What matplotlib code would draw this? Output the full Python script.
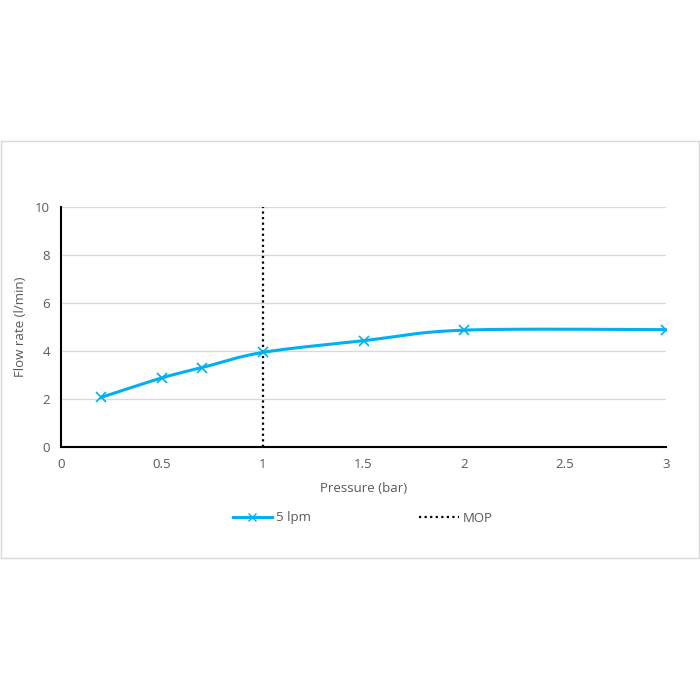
import numpy as np
import matplotlib
matplotlib.use("Agg")
import matplotlib.pyplot as plt
from matplotlib.lines import Line2D
from matplotlib.patches import Rectangle

# data
pressure = [0.2, 0.5, 0.7, 1.0, 1.5, 2.0, 3.0]
flow = [2.07, 2.88, 3.31, 3.94, 4.43, 4.87, 4.89]
mop_x = 1.0

BLUE = "#00B0F0"
GREY = "#595959"

plt.rcParams["font.family"] = ["Open Sans", "DejaVu Sans"]


def smooth(xs, ys, n=30):
    """Excel-style smoothed line (Catmull-Rom through the points)."""
    p = np.column_stack([xs, ys]).astype(float)
    p = np.vstack([p[0], p, p[-1]])
    out = []
    for i in range(1, len(p) - 2):
        p0, p1, p2, p3 = p[i - 1], p[i], p[i + 1], p[i + 2]
        t = np.linspace(0, 1, n)[:, None]
        c = 0.5 * ((2 * p1) + (-p0 + p2) * t + (2 * p0 - 5 * p1 + 4 * p2 - p3) * t ** 2
                   + (-p0 + 3 * p1 - 3 * p2 + p3) * t ** 3)
        out.append(c)
    c = np.vstack(out)
    return c[:, 0], c[:, 1]


fig = plt.figure(figsize=(7, 7), dpi=100)
fig.patches.append(Rectangle((1 / 700, 1 - 558 / 700), 698 / 700, 417 / 700,
                             transform=fig.transFigure, fill=False,
                             edgecolor="#d9d9d9", linewidth=1))
ax = fig.add_axes([61 / 700, 1 - 447 / 700, 605 / 700, 240 / 700])

sx, sy = smooth(pressure, flow)
ax.plot(sx, sy, color=BLUE, linewidth=2.2, zorder=3)
ax.plot(pressure, flow, linestyle="none", marker="x", color=BLUE,
        markersize=7, markeredgewidth=1.2, zorder=4)
ax.plot([mop_x, mop_x], [0, 10], color="black", linestyle=(0, (1, 1.5)),
        linewidth=1.6, zorder=2)

ax.set_xlim(0, 3)
ax.set_ylim(0, 10)
ax.set_xticks([0, 0.5, 1, 1.5, 2, 2.5, 3])
ax.set_xticklabels(["0", "0.5", "1", "1.5", "2", "2.5", "3"])
ax.set_yticks([0, 2, 4, 6, 8, 10])
ax.tick_params(length=0, colors=GREY, labelsize=9.5, pad=8)
ax.grid(axis="y", color="#d9d9d9", linewidth=1)
ax.set_axisbelow(True)
for s in ["top", "right"]:
    ax.spines[s].set_visible(False)
for s in ["left", "bottom"]:
    ax.spines[s].set_color("black")
    ax.spines[s].set_linewidth(1.5)
ax.set_xlabel("Pressure (bar)", color=GREY, fontsize=9.5, labelpad=8)
ax.set_ylabel("Flow rate (l/min)", color=GREY, fontsize=9.5, labelpad=6)

handles = [
    Line2D([], [], color=BLUE, linewidth=2.2, marker="x", markersize=6,
           markeredgewidth=1.0),
    Line2D([], [], color="black", linestyle=(0, (1, 1.5)), linewidth=1.6),
]
fig.legend(handles, ["5 lpm", "MOP"], ncol=2, loc="center",
           bbox_to_anchor=(0.518, 1 - 518 / 700), frameon=False,
           columnspacing=8.2, handlelength=3, handletextpad=0.3,
           fontsize=9.5, labelcolor=GREY)

fig.savefig("out.png", dpi=100, facecolor="white")
